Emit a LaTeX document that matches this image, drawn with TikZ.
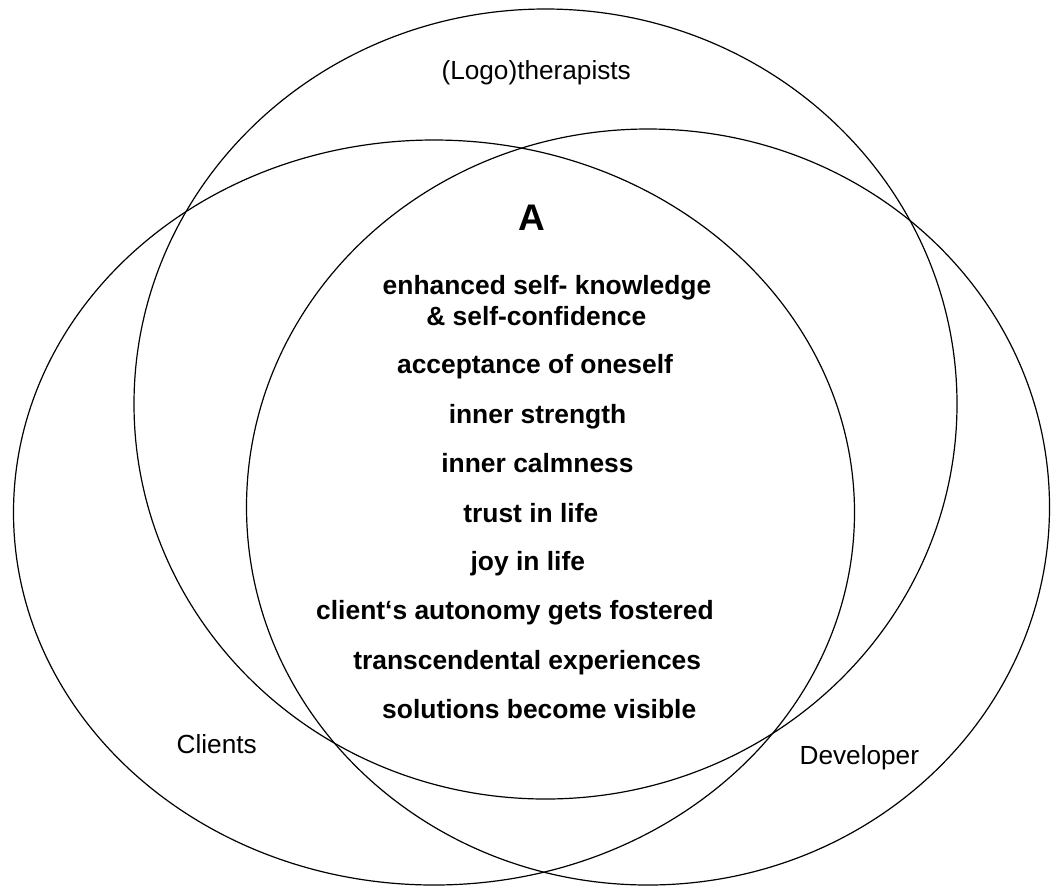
\documentclass[tikz,border=0pt]{standalone}
\usepackage{fontspec}
\setmainfont{Liberation Sans}
\usetikzlibrary{shapes.geometric}

\tikzset{
  group/.style={ellipse, draw=black, line width=1.2pt, inner sep=0pt, outer sep=0pt},
  grouplabel/.style={anchor=base, inner sep=0pt, font=\fontsize{26.2}{30}\selectfont},
  item/.style={anchor=base, inner sep=0pt, font=\fontsize{26.4}{30}\selectfont\bfseries},
  title/.style={anchor=base, inner sep=0pt, font=\fontsize{37}{42}\selectfont\bfseries}
}

\begin{document}
\begin{tikzpicture}[x=1pt, y=-1pt]
  \useasboundingbox (0,0) rectangle (1051,887);

  % the three overlapping groups
  \node[group, minimum width=823pt, minimum height=790pt] (therapists) at (545.5,404) {};
  \node[group, minimum width=841pt, minimum height=745pt] (clients) at (434,512.5) {};
  \node[group, minimum width=803pt, minimum height=756pt] (developer) at (648,507) {};

  % group names
  \node[grouplabel] (tlabel) at (536.2,79) {(Logo)therapists};
  \node[grouplabel] (clabel) at (216.7,753) {Clients};
  \node[grouplabel] (dlabel) at (859.3,764) {Developer};

  % common area
  \node[title] (A) at (531.7,230) {A};
  \node[item] (i1a) at (547,294) {enhanced self- knowledge};
  \node[item] (i1b) at (536.3,325) {\& self-confidence};
  \node[item] (i2) at (535,373) {acceptance of oneself};
  \node[item] (i3) at (537.5,423) {inner strength};
  \node[item] (i4) at (537.5,472) {inner calmness};
  \node[item] (i5) at (530.8,522) {trust in life};
  \node[item] (i6) at (527.8,570) {joy in life};
  \node[item] (i7) at (515,619) {client‘s autonomy gets fostered};
  \node[item] (i8) at (527.2,669) {transcendental experiences};
  \node[item] (i9) at (539.2,718) {solutions become visible};
\end{tikzpicture}
\end{document}
